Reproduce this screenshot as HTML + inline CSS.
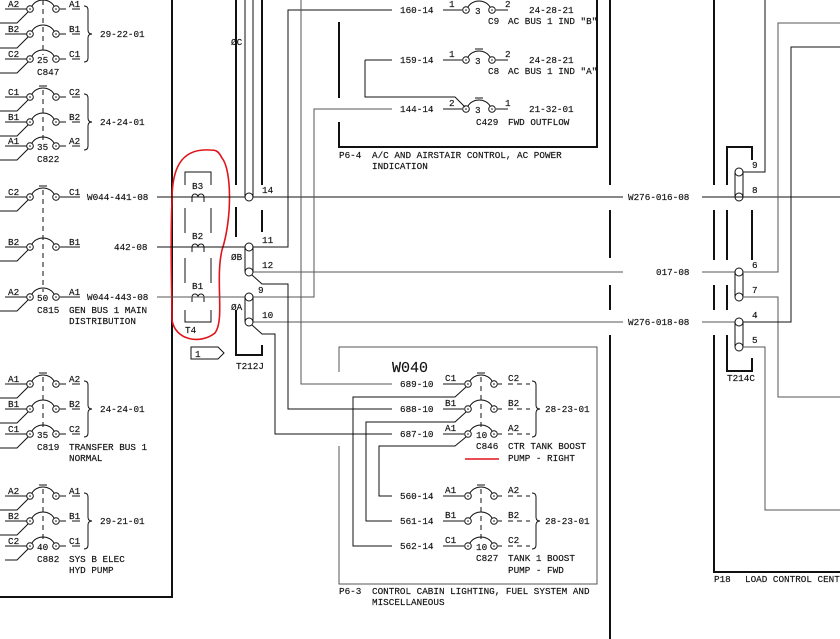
<!DOCTYPE html>
<html><head><meta charset="utf-8"><style>
html,body{margin:0;padding:0;background:#fff;}
svg{display:block;}
text{font-family:"Liberation Mono",monospace;font-size:9.3px;fill:#111;stroke:#111;stroke-width:0.15;}
.t{stroke:#111;stroke-width:1;fill:none;}
.k{stroke:#111;stroke-width:2;fill:none;}
.g{stroke:#555;stroke-width:1;fill:none;}
.d{stroke:#111;stroke-width:1;fill:none;stroke-dasharray:5,4;}
</style></head><body>
<svg width="840" height="639" viewBox="0 0 840 639" xmlns="http://www.w3.org/2000/svg">
<defs>
<g id="bk"><circle cx="0" cy="0" r="3.3" class="t"/><circle cx="0" cy="0" r="0.8" fill="#111"/><circle cx="26" cy="0" r="3.3" class="t"/><circle cx="26" cy="0" r="0.8" fill="#111"/><path d="M2,-3 A12,10 0 0 1 24,-3" class="t"/></g>
<g id="bkt"><use href="#bk"/><path d="M9,-11 H17" class="t"/></g>
<g id="br"><path d="M0,-28 q4,0 4,4 v20 q0,4 4,4 q-4,0 -4,4 v20 q0,4 -4,4" class="t"/></g>
</defs>
<rect width="840" height="639" fill="#fff"/>

<g>
<use href="#bk" x="30" y="9"/><use href="#bk" x="30" y="34"/><use href="#bk" x="30" y="59"/>
<path d="M5,9H27M5,34H27M5,59H27M28,12L17,23H0M28,37L17,48H0M28,62L17,73H0M60,9H66M72,9H80M60,34H66M72,34H80M60,59H66M72,59H80" class="t"/>
<path d="M43,0V55" class="d"/>
<text x="8" y="7">A2</text><text x="8" y="32">B2</text><text x="8" y="57">C2</text>
<text x="69" y="7">A1</text><text x="69" y="32">B1</text><text x="69" y="57">C1</text>
<text x="37" y="63">25</text><text x="37" y="75">C847</text>
<use href="#br" x="84" y="34"/><text x="100" y="37">29-22-01</text>
<use href="#bkt" x="30" y="97"/><use href="#bk" x="30" y="122"/><use href="#bk" x="30" y="146"/>
<path d="M5,97H27M5,122H27M5,146H27M28,100L17,111H0M28,125L17,136H0M28,149L17,160H0M60,97H66M72,97H80M60,122H66M72,122H80M60,146H66M72,146H80" class="t"/>
<path d="M43,90V142" class="d"/>
<text x="8" y="95">C1</text><text x="8" y="120">B1</text><text x="8" y="144">A1</text>
<text x="69" y="95">C2</text><text x="69" y="120">B2</text><text x="69" y="144">A2</text>
<text x="37" y="150">35</text><text x="37" y="162">C822</text>
<use href="#br" x="84" y="122"/><text x="100" y="125">24-24-01</text>
<use href="#bkt" x="30" y="197"/><use href="#bk" x="30" y="247"/><use href="#bk" x="30" y="297"/>
<path d="M5,197H27M5,247H27M5,297H27M28,200L17,211H0M28,250L17,261H0M28,300L17,311H0M60,197H80M60,247H80M60,297H80" class="t"/>
<path d="M43,190V292" class="d"/>
<text x="8" y="195">C2</text><text x="8" y="245">B2</text><text x="8" y="295">A2</text>
<text x="69" y="195">C1</text><text x="69" y="245">B1</text><text x="69" y="295">A1</text>
<text x="37" y="301">50</text><text x="37" y="313">C815</text>
<text x="87" y="200">W044-441-08</text><text x="114" y="250">442-08</text><text x="87" y="300">W044-443-08</text>
<text x="69" y="313">GEN BUS 1 MAIN</text><text x="69" y="324">DISTRIBUTION</text>
<use href="#bkt" x="30" y="384"/><use href="#bk" x="30" y="409"/><use href="#bk" x="30" y="434"/>
<path d="M5,384H27M5,409H27M5,434H27M28,387L17,398H0M28,412L17,423H0M28,437L17,448H0M60,384H66M72,384H80M60,409H66M72,409H80M60,434H66M72,434H80" class="t"/>
<path d="M43,377V430" class="d"/>
<text x="8" y="382">A1</text><text x="8" y="407">B1</text><text x="8" y="432">C1</text>
<text x="69" y="382">A2</text><text x="69" y="407">B2</text><text x="69" y="432">C2</text>
<text x="37" y="438">35</text><text x="37" y="450">C819</text>
<text x="69" y="450">TRANSFER BUS 1</text><text x="69" y="461">NORMAL</text>
<use href="#br" x="84" y="409"/><text x="100" y="412">24-24-01</text>
<use href="#bkt" x="30" y="496"/><use href="#bk" x="30" y="521"/><use href="#bk" x="30" y="546"/>
<path d="M5,496H27M5,521H27M5,546H27M28,499L17,510H0M28,524L17,535H0M28,549L17,560H5M60,496H66M72,496H80M60,521H66M72,521H80M60,546H66M72,546H80" class="t"/>
<path d="M43,489V542" class="d"/>
<text x="8" y="494">A2</text><text x="8" y="519">B2</text><text x="8" y="544">C2</text>
<text x="69" y="494">A1</text><text x="69" y="519">B1</text><text x="69" y="544">C1</text>
<text x="37" y="550">40</text><text x="37" y="562">C882</text>
<text x="69" y="562">SYS B ELEC</text><text x="69" y="573">HYD PUMP</text>
<use href="#br" x="84" y="521"/><text x="100" y="524">29-21-01</text>
</g>
<path d="M172,0V597H0" class="k"/>

<path d="M185,185V172H211V185M185,208V233M211,208V233M185,258V283M211,258V283M185,310V322H211V310" class="t"/>
<path d="M192,202v-5a3,3 0 0 1 6,0a3,3 0 0 1 6,0v5M192,252v-5a3,3 0 0 1 6,0a3,3 0 0 1 6,0v5M192,302v-5a3,3 0 0 1 6,0a3,3 0 0 1 6,0v5" class="t"/>
<text x="192" y="189">B3</text><text x="192" y="239">B2</text><text x="192" y="289">B1</text><text x="185" y="333">T4</text>
<path d="M191,347H218L224,353L218,359H191Z" class="t"/><text x="195" y="357">1</text>
<path d="M210,150 C180,148 172,170 172,200 C170,250 172,290 172,320 C175,340 200,345 215,333 C225,320 215,280 222,250 C232,220 232,170 222,158 C218,150 215,150 210,150Z" stroke="#e0141b" stroke-width="1.6" fill="none"/>

<path d="M157,197H245M253,197H623M702,197H840" class="t"/>
<path d="M157,247H245M253,247H288V10H392" class="t"/>
<path d="M157,297H245M253,297H314V109H392" class="g"/>
<path d="M253,272H623M702,272H735" class="g"/>
<path d="M253,322H623M702,322H735" class="g"/>
<path d="M252,275L262,284H288V409H392" class="t"/>
<path d="M252,325L262,334H275V434H392" class="t"/>
<path d="M301,0V384H392" class="g"/>

<path d="M236,0V185M236,207V237M236,310V355H262V345M262,0V185M262,210V232" class="k"/>
<path d="M245,0V197M253,0V197M245,247V272M253,247V272M245,297V322M253,297V322" class="t"/>
<circle cx="249" cy="197" r="4" fill="#fff" class="t"/>
<circle cx="249" cy="247" r="4" fill="#fff" class="t"/><circle cx="249" cy="272" r="4" fill="#fff" class="t"/>
<circle cx="249" cy="297" r="4" fill="#fff" class="t"/><circle cx="249" cy="322" r="4" fill="#fff" class="t"/>
<text x="262" y="193">14</text><text x="262" y="243">11</text><text x="262" y="268">12</text><text x="258" y="293">9</text><text x="262" y="318">10</text>
<text x="231" y="45">ØC</text><text x="231" y="260">ØB</text><text x="231" y="310">ØA</text>
<text x="236" y="369">T212J</text>

<path d="M339,22V98M339,122V147H597V0" class="k"/>
<text x="339" y="158">P6-4</text><text x="372" y="158">A/C AND AIRSTAIR CONTROL, AC POWER</text><text x="372" y="169">INDICATION</text>
<path d="M365,60H392M365,60V97H455L465,107" class="t"/>
<text x="400" y="13">160-14</text><text x="400" y="63">159-14</text><text x="400" y="112">144-14</text>
<use href="#bk" x="466" y="10"/><use href="#bkt" x="466" y="60"/><use href="#bkt" x="466" y="109"/>
<path d="M443,10H462M443,60H462M443,109H462M496,10H508M496,60H508M496,109H508" class="t"/>
<text x="449" y="7">1</text><text x="449" y="57">1</text><text x="449" y="106">2</text>
<text x="505" y="7">2</text><text x="505" y="57">2</text><text x="505" y="106">1</text>
<text x="475" y="14">3</text><text x="475" y="64">3</text><text x="475" y="113">3</text>
<text x="529" y="13">24-28-21</text><text x="529" y="63">24-28-21</text><text x="529" y="112">21-32-01</text>
<text x="488" y="24">C9</text><text x="508" y="24">AC BUS 1 IND "B"</text>
<text x="488" y="74">C8</text><text x="508" y="74">AC BUS 1 IND "A"</text>
<text x="476" y="125">C429</text><text x="508" y="125">FWD OUTFLOW</text>

<path d="M339,372V347H597V584H339V446" class="g"/>
<text x="339" y="594">P6-3</text><text x="372" y="594">CONTROL CABIN LIGHTING, FUEL SYSTEM AND</text><text x="372" y="605">MISCELLANEOUS</text>
<text x="392" y="372" style="font-size:15px">W040</text>
<text x="400" y="387">689-10</text><text x="400" y="412">688-10</text><text x="400" y="437">687-10</text>
<text x="400" y="499">560-14</text><text x="400" y="524">561-14</text><text x="400" y="549">562-14</text>
<use href="#bkt" x="468" y="384"/><use href="#bk" x="468" y="409"/><use href="#bk" x="468" y="434"/>
<use href="#bkt" x="468" y="496"/><use href="#bk" x="468" y="521"/><use href="#bk" x="468" y="546"/>
<path d="M443,384H464M443,409H464M443,434H464M443,496H464M443,521H464M443,546H464M498,384H502M498,409H502M498,434H502M498,496H502M498,521H502M498,546H502" class="t"/>
<path d="M466,387L455,397H353V546H392M466,412L455,422H366V521H392M466,437L455,446H379V496H392" class="t"/>
<path d="M508,384H530M508,409H530M508,434H530M508,496H530M508,521H530M508,546H530" class="d"/>
<path d="M481,377V430M481,489V542" class="d"/>
<text x="445" y="381">C1</text><text x="445" y="406">B1</text><text x="445" y="431">A1</text>
<text x="445" y="493">A1</text><text x="445" y="518">B1</text><text x="445" y="543">C1</text>
<text x="508" y="381">C2</text><text x="508" y="406">B2</text><text x="508" y="431">A2</text>
<text x="508" y="493">A2</text><text x="508" y="518">B2</text><text x="508" y="543">C2</text>
<text x="476" y="438">10</text><text x="476" y="550">10</text>
<text x="476" y="449">C846</text><text x="508" y="449">CTR TANK BOOST</text><text x="508" y="461">PUMP - RIGHT</text>
<path d="M465,459H499" stroke="#e0141b" stroke-width="1.5"/>
<text x="476" y="561">C827</text><text x="508" y="561">TANK 1 BOOST</text><text x="508" y="573">PUMP - FWD</text>
<use href="#br" x="532" y="409"/><text x="545" y="412">28-23-01</text>
<use href="#br" x="532" y="521"/><text x="545" y="524">28-23-01</text>

<path d="M610,0V185M610,210V258M610,285V310M610,335V639" class="k"/>
<path d="M714,0V185M714,210V260M714,285V310M714,335V572H840" class="k"/>
<path d="M727,185V147H752V160M727,210V260M727,285V310M727,335V371H752V358M752,210V260" class="k"/>
<text x="628" y="200">W276-016-08</text><text x="656" y="275">017-08</text><text x="628" y="325">W276-018-08</text>
<path d="M735,172V197M743,172V197M735,272V297M743,272V297M735,322V347M743,322V347" class="t"/>
<circle cx="739" cy="172" r="4" fill="#fff" class="t"/><circle cx="739" cy="197" r="4" fill="#fff" class="t"/>
<circle cx="739" cy="272" r="4" fill="#fff" class="t"/><circle cx="739" cy="297" r="4" fill="#fff" class="t"/>
<circle cx="739" cy="322" r="4" fill="#fff" class="t"/><circle cx="739" cy="347" r="4" fill="#fff" class="t"/>
<path d="M743,172H765V0" class="t"/>
<path d="M743,272H778V23H840M743,297H778V397H840" class="g"/>
<path d="M743,322H791V47H840" class="t"/>
<path d="M743,347H765V510H840" class="g"/>
<text x="752" y="168">9</text><text x="752" y="193">8</text><text x="752" y="268">6</text><text x="752" y="293">7</text><text x="752" y="318">4</text><text x="752" y="343">5</text>
<text x="727" y="381">T214C</text>
<text x="714" y="582">P18</text><text x="745" y="582">LOAD CONTROL CENTER</text>
</svg>
</body></html>
